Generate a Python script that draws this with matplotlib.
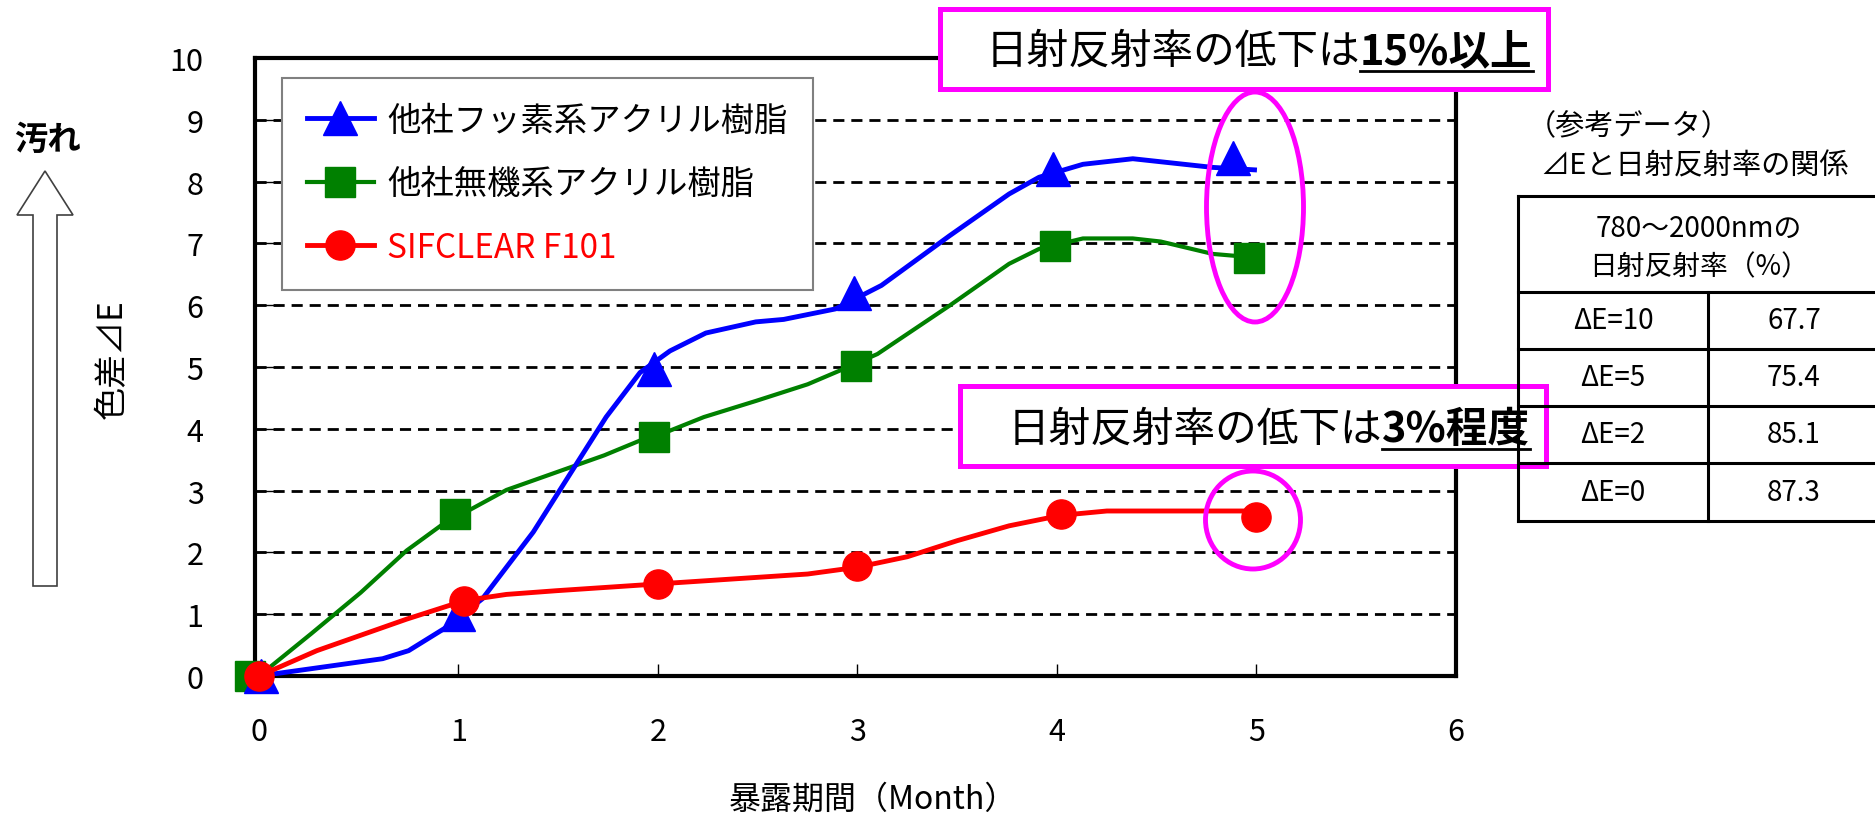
import numpy as np
import matplotlib.pyplot as plt
from matplotlib.patches import Rectangle, Ellipse, FancyArrow

plt.rcParams['font.family'] = ['Noto Sans CJK JP', 'DejaVu Sans']

W, H = 1875, 820

#series names
names = ["他社フッ素系アクリル樹脂", "他社無機系アクリル樹脂", "SIFCLEAR F101"]

#line data (month, dE)
blue_x = [0, 0.62, 0.75, 0.94, 1.12, 1.375, 1.74, 1.91, 2.06, 2.24, 2.49, 2.63, 2.89, 3.12, 3.46, 3.76, 3.91, 4.13, 4.38, 4.78, 4.99]
blue_y = [0, 0.28, 0.41, 0.79, 1.25, 2.33, 4.19, 4.91, 5.26, 5.55, 5.73, 5.77, 5.94, 6.32, 7.12, 7.80, 8.07, 8.28, 8.37, 8.23, 8.19]
green_x = [0, 0.26, 0.51, 0.74, 0.91, 1.24, 1.73, 1.91, 2.06, 2.23, 2.49, 2.75, 2.91, 3.10, 3.46, 3.76, 3.91, 4.13, 4.38, 4.52, 4.78, 4.96]
green_y = [0, 0.68, 1.35, 2.03, 2.43, 3.01, 3.57, 3.81, 3.97, 4.19, 4.45, 4.72, 4.94, 5.21, 5.99, 6.67, 6.91, 7.08, 7.08, 7.03, 6.83, 6.78]
red_x = [0, 0.29, 0.74, 1.03, 1.24, 1.49, 2.0, 2.75, 3.0, 3.25, 3.5, 3.76, 4.02, 4.25, 5.0]
red_y = [0, 0.41, 0.92, 1.22, 1.32, 1.38, 1.49, 1.65, 1.76, 1.93, 2.19, 2.43, 2.60, 2.67, 2.67]

#marker data
blue_mx = [0.01, 1.0, 1.98, 2.98, 3.98, 4.88]
blue_my = [0.0, 1.0, 4.97, 6.2, 8.2, 8.38]
green_mx = [-0.045, 0.98, 1.98, 2.99, 3.99, 4.96]
green_my = [0.0, 2.62, 3.87, 5.02, 6.95, 6.76]
red_mx = [0.0, 1.03, 2.0, 3.0, 4.02, 5.0]
red_my = [0.0, 1.22, 1.49, 1.78, 2.62, 2.57]

#reference table
table_head = ["780～2000nmの", "日射反射率（%）"]
table_rows = ["ΔE=10", "ΔE=5", "ΔE=2", "ΔE=0"]
table_vals = ["67.7", "75.4", "85.1", "87.3"]

fig = plt.figure(figsize=(W / 100, H / 100), dpi=100)
ax = fig.add_axes([255 / W, 1 - 677 / H, (1456 - 255) / W, (677 - 59) / H])

#plot lines
lg, = ax.plot(green_x, green_y, color='#008000', lw=3, zorder=3)
lb, = ax.plot(blue_x, blue_y, color='#0000FF', lw=3.5, zorder=3)
lr, = ax.plot(red_x, red_y, color='#FF0000', lw=3.5, zorder=3)

#plot markers
mg, = ax.plot(green_mx, green_my, ls='None', marker='s', ms=21, color='#008000', clip_on=False, zorder=4)
mb, = ax.plot(blue_mx, blue_my, ls='None', marker='^', ms=24, color='#0000FF', clip_on=False, zorder=4)
mr, = ax.plot(red_mx, red_my, ls='None', marker='o', ms=21, color='#FF0000', clip_on=False, zorder=4)

#configure axes
ax.set_xlim(-0.02, 6)
ax.set_ylim(0, 10)
ax.set_xticks(range(7))
ax.set_yticks(range(11))
ax.set_axisbelow(True)
ax.yaxis.grid(True, linestyle=(0, (4, 2.5)), color='black', lw=2)
for s in ax.spines.values():
    s.set_linewidth(3)
    s.set_color('black')
ax.tick_params(axis='x', direction='in', length=9, width=1, pad=29, labelsize=22)
ax.tick_params(axis='y', direction='in', length=18, width=1, pad=37, labelsize=22)

leg = ax.legend([(lb, mb), (lg, mg), (lr, mr)], names, loc='upper left',
                bbox_to_anchor=(282 / W, 1 - 79 / H), bbox_transform=fig.transFigure,
                borderaxespad=0, fontsize=24, handlelength=2.0, borderpad=0.75,
                labelspacing=0.85, handletextpad=0.4, fancybox=False, framealpha=1)
leg.get_frame().set_edgecolor('#808080')
leg.get_frame().set_linewidth(1.5)
leg.get_texts()[2].set_color('#FF0000')

#overlay in pixel coords for notes and table
ov = fig.add_axes([0, 0, 1, 1], zorder=5)
ov.set_xlim(0, W)
ov.set_ylim(H, 0)
ov.axis('off')
ov.patch.set_alpha(0)

ov.text(47, 140, "汚れ", fontsize=24, fontweight='bold', ha='center', va='center')
ov.add_patch(FancyArrow(45, 587, 0, -415, width=24, head_width=56, head_length=44,
                        length_includes_head=True, facecolor='white', edgecolor='#404040', lw=1.2))
ov.text(112, 359, "色差⊿E", fontsize=24, rotation=90, ha='center', va='center')
ov.text(873, 800, "暴露期間（Month）", fontsize=23, ha='center', va='center')

#table
tx0, tx1, tx2 = 1518, 1708, 1880
ty = [197, 293, 350, 407, 464, 522]
for yy in ty:
    ov.plot([tx0, tx2], [yy, yy], color='black', lw=2.2)
ov.plot([tx0, tx0], [ty[0], ty[-1]], color='black', lw=2.2)
ov.plot([tx1, tx1], [ty[1], ty[-1]], color='black', lw=2.2)
ov.plot([tx2, tx2], [ty[0], ty[-1]], color='black', lw=2.2, clip_on=False)
ov.text(1527, 127, "（参考データ）", fontsize=21, ha='left', va='center')
ov.text(1540, 166, "⊿Eと日射反射率の関係", fontsize=21, ha='left', va='center')
ov.text((tx0 + tx2) / 2, 229, table_head[0], fontsize=20, ha='center', va='center')
ov.text((tx0 + tx2) / 2, 267, table_head[1], fontsize=20, ha='center', va='center')
for i in range(len(table_rows)):
    yc = (ty[i + 1] + ty[i + 2]) / 2
    ov.text((tx0 + tx1) / 2, yc, table_rows[i], fontsize=20, ha='center', va='center')
    ov.text((tx1 + tx2) / 2, yc, table_vals[i], fontsize=20, ha='center', va='center')

#magenta notes
ov.add_patch(Rectangle((940, 10), 608, 80, facecolor='white', edgecolor='#FF00FF', lw=3.6))
ov.add_patch(Rectangle((960, 387), 586, 80, facecolor='white', edgecolor='#FF00FF', lw=3.6))
ov.add_patch(Ellipse((1255, 208), 97, 230, fill=False, edgecolor='#FF00FF', lw=3.5))
ov.add_patch(Ellipse((1253, 521), 95, 98, fill=False, edgecolor='#FF00FF', lw=3.5))

ov.text(1360, 52, "日射反射率の低下は", fontsize=30, ha='right', va='center')
b1 = ov.text(1360, 52, "15%以上", fontsize=30, fontweight='bold', ha='left', va='center')
ov.text(1382, 430, "日射反射率の低下は", fontsize=30, ha='right', va='center')
b2 = ov.text(1382, 430, "3%程度", fontsize=30, fontweight='bold', ha='left', va='center')

#underline the bold parts
fig.canvas.draw()
r = fig.canvas.get_renderer()
for t, yy in [(b1, 72), (b2, 450)]:
    bb = t.get_window_extent(r)
    ov.plot([bb.x0, bb.x1], [yy, yy], color='black', lw=2)

fig.savefig('out.png', dpi=100)
